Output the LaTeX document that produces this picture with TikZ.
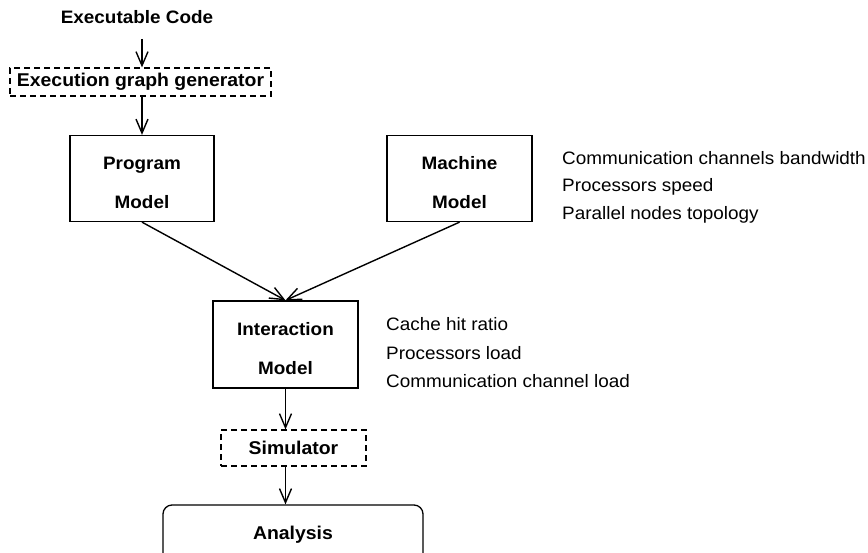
\documentclass[tikz,border=0pt]{standalone}
\usepackage{fontspec}
\setmainfont{Liberation Sans}[FakeStretch=1.05]
\usetikzlibrary{arrows.meta}
\tikzset{
  box/.style={draw, line width=1.3pt, minimum width=144pt, minimum height=86pt, inner sep=0pt, align=center, font=\fontsize{18}{39}\selectfont\bfseries},
  dbox/.style={draw, line width=1.2pt, dash pattern=on 6pt off 4pt, inner sep=0pt, font=\fontsize{18.5}{22}\selectfont\bfseries},
  note/.style={anchor=west, inner sep=0pt, font=\fontsize{18}{20}\selectfont},
  arr/.style={line width=1.4pt, -{Straight Barb[length=14pt,width=12pt,line width=1.4pt]}}
}
\begin{document}
\begin{tikzpicture}[x=1pt,y=-1pt]
\useasboundingbox (0,0) rectangle (868,552);
\clip (0,0) rectangle (868,552);
\node[inner sep=0pt, font=\fontsize{18}{22}\selectfont\bfseries] (code) at (137,17) {Executable Code};
\node[dbox, minimum width=261pt, minimum height=28pt] (gen) at (140.5,82) {Execution graph generator};
\node[box] (prog) at (142,178.5) {\rule{0pt}{22pt}Program\\Model};
\node[box, minimum width=145pt] (mach) at (459.5,178.5) {\rule{0pt}{22pt}Machine\\Model};
\node[box, minimum width=145pt, minimum height=87pt] (int) at (285.5,344.5) {\rule{0pt}{22pt}Interaction\\Model};
\node[dbox, minimum width=145pt, minimum height=36pt] (sim) at (293.5,448) {Simulator};
\node[draw, line width=1.3pt, rounded corners=9pt, minimum width=260pt, minimum height=60pt, inner sep=0pt, font=\fontsize{18.5}{22}\selectfont\bfseries, text depth=0pt] (ana) at (293,535) {\raisebox{5pt}{Analysis}};

\node[note] (n1) at (562,158) {Communication channels bandwidth};
\node[note] (n2) at (562,187) {Processors speed};
\node[note] (n3) at (562,215) {Parallel nodes topology};
\node[note] (i1) at (386,324) {Cache hit ratio};
\node[note] (i2) at (386,353) {Processors load};
\node[note] (i3) at (386,381) {Communication channel load};

\coordinate (c1) at ([yshift=-15pt]code.south -| prog.north);
\draw[arr] (c1) -- (gen.north -| prog.north);
\draw[arr] (gen.south -| prog.north) -- (prog.north);
\draw[arr] (prog.south) -- (int.north);
\draw[arr] (mach.south) -- (int.north);
\draw[arr] (int.south) -- (int.south |- sim.north);
\draw[arr] (int.south |- sim.south) -- (int.south |- ana.north);
\end{tikzpicture}
\end{document}
